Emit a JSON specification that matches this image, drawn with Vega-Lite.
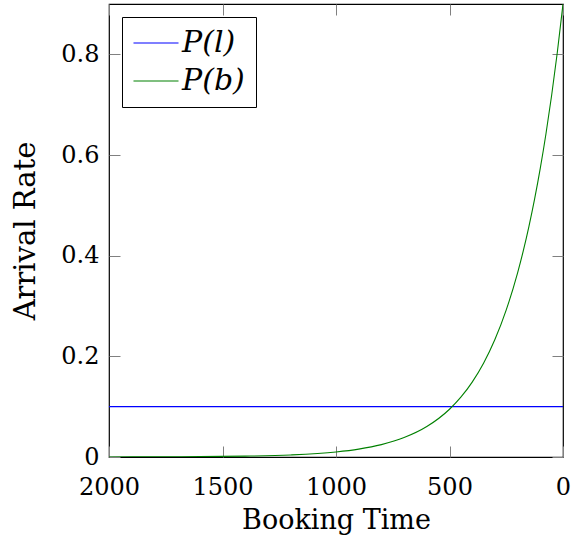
{
  "$schema": "https://vega.github.io/schema/vega-lite/v6.json",
  "autosize": "none",
  "padding": {"left": 109, "top": 4, "right": 8, "bottom": 85},
  "width": 454,
  "height": 453,
  "background": "white",
  "config": {
    "font": "DejaVu Serif",
    "view": {"stroke": "#000000", "strokeWidth": 1.2},
    "axis": {
      "domain": false,
      "grid": false,
      "tickColor": "#808080",
      "tickSize": -11,
      "tickWidth": 1,
      "labelFont": "DejaVu Serif",
      "labelFontSize": 24,
      "labelColor": "#000000",
      "titleFont": "DejaVu Serif",
      "titleFontSize": 27,
      "titleFontWeight": "normal",
      "titleColor": "#000000"
    }
  },
  "data": {
    "values": [
      {"t": 0, "rate": 0.1, "series": "P(l)"},
      {"t": 2000, "rate": 0.1, "series": "P(l)"},
      {"t": 0, "rate": 0.9, "series": "P(b)"},
      {"t": 25, "rate": 0.8042, "series": "P(b)"},
      {"t": 50, "rate": 0.7187, "series": "P(b)"},
      {"t": 75, "rate": 0.6422, "series": "P(b)"},
      {"t": 100, "rate": 0.5738, "series": "P(b)"},
      {"t": 125, "rate": 0.5128, "series": "P(b)"},
      {"t": 150, "rate": 0.4583, "series": "P(b)"},
      {"t": 175, "rate": 0.4095, "series": "P(b)"},
      {"t": 200, "rate": 0.3659, "series": "P(b)"},
      {"t": 250, "rate": 0.2922, "series": "P(b)"},
      {"t": 300, "rate": 0.2333, "series": "P(b)"},
      {"t": 350, "rate": 0.1863, "series": "P(b)"},
      {"t": 400, "rate": 0.1488, "series": "P(b)"},
      {"t": 450, "rate": 0.1188, "series": "P(b)"},
      {"t": 500, "rate": 0.0949, "series": "P(b)"},
      {"t": 600, "rate": 0.0605, "series": "P(b)"},
      {"t": 700, "rate": 0.0386, "series": "P(b)"},
      {"t": 800, "rate": 0.0246, "series": "P(b)"},
      {"t": 900, "rate": 0.0157, "series": "P(b)"},
      {"t": 1000, "rate": 0.0100, "series": "P(b)"},
      {"t": 1200, "rate": 0.0041, "series": "P(b)"},
      {"t": 1400, "rate": 0.0017, "series": "P(b)"},
      {"t": 1600, "rate": 0.0007, "series": "P(b)"},
      {"t": 1800, "rate": 0.0003, "series": "P(b)"},
      {"t": 2000, "rate": 0.0001, "series": "P(b)"}
    ]
  },
  "layer": [
    {
      "mark": {"type": "line", "strokeWidth": 1.1, "interpolate": "monotone", "clip": true},
      "encoding": {
        "x": {
          "field": "t", "type": "quantitative",
          "scale": {"domain": [0, 2000], "reverse": true, "nice": false, "zero": false},
          "axis": {"orient": "bottom", "values": [0, 500, 1000, 1500, 2000], "format": "d", "title": "Booking Time", "labelPadding": 29, "titlePadding": 8, "labelFlush": false}
        },
        "y": {
          "field": "rate", "type": "quantitative",
          "scale": {"domain": [0, 0.9], "nice": false},
          "axis": {"orient": "left", "values": [0, 0.2, 0.4, 0.6, 0.8], "labelExpr": "datum.value == 0 ? '0' : format(datum.value, '.1f')", "title": "Arrival Rate", "titleFontSize": 29, "labelPadding": 21, "titlePadding": 20, "labelFlush": false}
        },
        "color": {
          "field": "series", "type": "nominal",
          "scale": {"domain": ["P(l)", "P(b)"], "range": ["#0000ff", "#008000"]},
          "legend": {
            "title": null,
            "orient": "top-left",
            "offset": 13,
            "symbolType": "M-2.4,0H2.4",
            "symbolSize": 352,
            "symbolStrokeWidth": 1.2,
            "symbolFillColor": "transparent",
            "symbolOffset": 8,
            "labelFontSize": 30,
            "labelFontStyle": "italic",
            "labelFont": "DejaVu Serif",
            "labelColor": "#000000",
            "strokeColor": "#000000",
            "fillColor": "#ffffff",
            "padding": 11,
            "rowPadding": 8,
            "labelOffset": 11
          }
        }
      }
    },
    {
      "mark": {"type": "line", "opacity": 0},
      "encoding": {
        "x": {
          "field": "t", "type": "quantitative",
          "axis": {"orient": "top", "values": [0, 500, 1000, 1500, 2000], "labels": false, "title": null}
        },
        "y": {
          "field": "rate", "type": "quantitative",
          "axis": {"orient": "right", "values": [0, 0.2, 0.4, 0.6, 0.8], "labels": false, "title": null}
        },
        "detail": {"field": "series"}
      }
    }
  ],
  "resolve": {"axis": {"x": "independent", "y": "independent"}}
}
